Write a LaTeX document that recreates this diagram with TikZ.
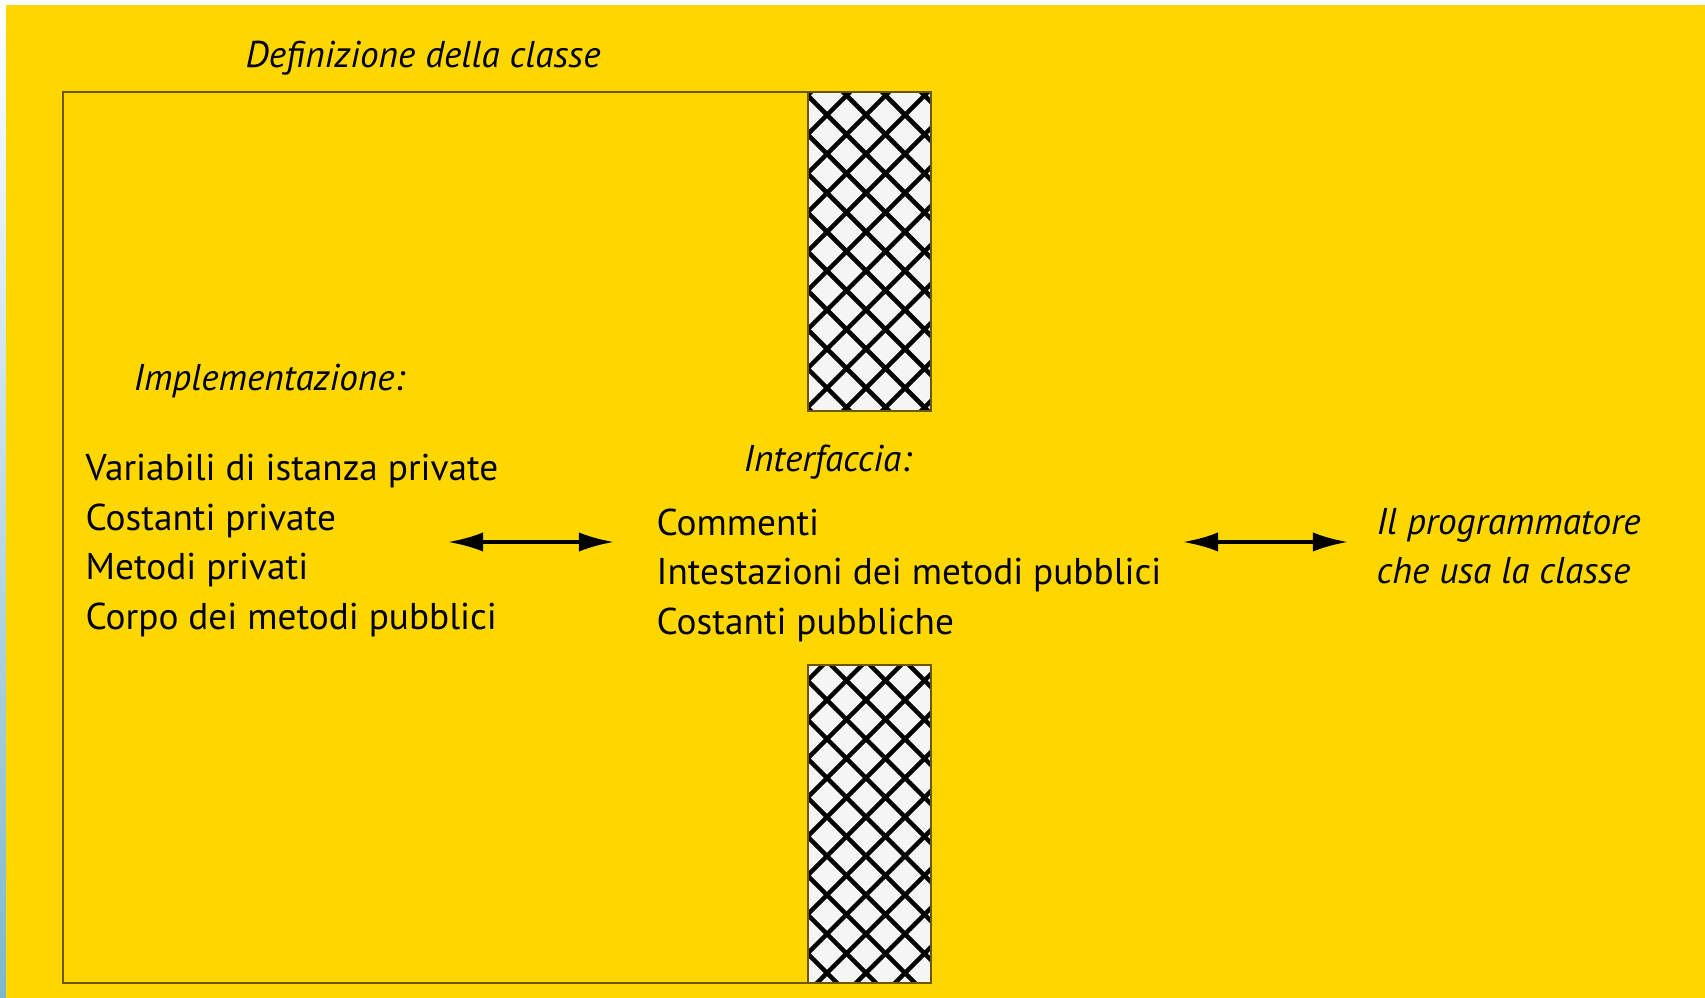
\documentclass[tikz,border=0pt]{standalone}
\usepackage{fontspec}
\setmainfont{PT Sans}
\usetikzlibrary{arrows.meta}

\definecolor{bgyellow}{RGB}{255,215,0}
\definecolor{boxline}{RGB}{110,85,0}
\definecolor{stripblue}{RGB}{125,183,204}

\tikzset{
  label/.style={anchor=base west, inner sep=0pt, font=\fontsize{10.6}{13}\selectfont},
  italiclabel/.style={label, font=\fontsize{10.6}{13}\selectfont\itshape},
  twoway/.style={{Latex[length=10pt,width=5.5pt]}-{Latex[length=10pt,width=5.5pt]}, line width=1pt},
}

\begin{document}
\begin{tikzpicture}[x=0.01cm, y=-0.01cm]
      % background
      \fill[bgyellow] (0, 0) rectangle (1705, 998);
      \fill[white] (0, 0) rectangle (1705, 5);
      \shade[top color=white, bottom color=stripblue] (0, 5) rectangle (6, 998);
      \useasboundingbox (0, 0) rectangle (1705, 998);

      % the class box
      \draw[boxline, line width=0.6pt] (808, 92) -- (63, 92) -- (63, 983) -- (808, 983);
      \node[italiclabel] (title) at (245, 68) {Definizione della classe};

      % hatched walls
      \foreach \ya/\yb in {92/411, 665/983} {
        \begin{scope}
          \clip (808, \ya) rectangle (931, \yb);
          \fill[white!96!black] (808, \ya) rectangle (931, \yb);
          \foreach \k in {-40,...,40} {
            \draw[line width=1.3pt] (712+39*\k-400, -400) -- (712+39*\k+1400, 1400);
            \draw[line width=1.3pt] (942+39*\k+400, -400) -- (942+39*\k-1400, 1400);
          }
        \end{scope}
        \draw[boxline, line width=0.5pt] (808, \ya) rectangle (931, \yb);
      }

      % implementation
      \node[italiclabel] (impl) at (133, 391) {Implementazione:};
      \node[label] (priv1) at (85, 481) {Variabili di istanza private};
      \node[label] (priv2) at (85, 531) {Costanti private};
      \node[label] (priv3) at (85, 580) {Metodi privati};
      \node[label] (priv4) at (85, 630) {Corpo dei metodi pubblici};

      % interface
      \node[italiclabel] (iface) at (743, 472) {Interfaccia:};
      \node[label] (pub1) at (656, 536) {Commenti};
      \node[label] (pub2) at (656, 585) {Intestazioni dei metodi pubblici};
      \node[label] (pub3) at (656, 635) {Costanti pubbliche};

      % user
      \node[italiclabel] (user1) at (1376, 535) {Il programmatore};
      \node[italiclabel] (user2) at (1376, 584) {che usa la classe};

      \coordinate (la) at (448, 542);
      \coordinate (lb) at (614, 542);
      \coordinate (ra) at (1183, 542);
      \coordinate (rb) at (1348, 542);
      \draw[twoway] (la) -- (lb);
      \draw[twoway] (ra) -- (rb);

    \end{tikzpicture}
\end{document}
